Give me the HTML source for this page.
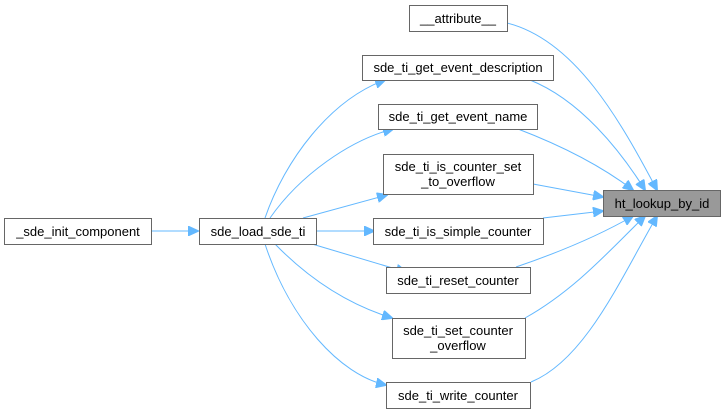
<!DOCTYPE html>
<html><head><meta charset="utf-8"><style>
html,body{margin:0;padding:0;background:#fff;}
svg text{font-family:"Liberation Sans",sans-serif;font-size:13px;fill:#000;}
</style></head><body>
<svg width="723" height="413" viewBox="0 0 723 413" xmlns="http://www.w3.org/2000/svg">
<defs><marker id="a" markerWidth="11" markerHeight="10" refX="10" refY="5" orient="auto" markerUnits="userSpaceOnUse"><path d="M0,0 L11,5 L0,10 Z" fill="#63b8ff" stroke="#63b8ff"/></marker></defs>
<g fill="none" stroke="#63b8ff" stroke-width="1" marker-end="url(#a)">
<path d="M151,231 L198,231"/>
<path d="M316,231 L374,231"/>
<path d="M265,218 C285,160 330,100 385,80"/>
<path d="M270,218 C300,175 350,140 393,129"/>
<path d="M303,218 L387,195"/>
<path d="M312,244 L406,272"/>
<path d="M275,244 C310,280 350,305 392,318"/>
<path d="M265,244 C290,320 340,375 386,385"/>
<path d="M507,23 C575,40 620,120 657,190"/>
<path d="M530,80 C580,100 620,150 645,190"/>
<path d="M518,129 C560,145 600,165 633,190"/>
<path d="M533,184 L603,197"/>
<path d="M543,218 L603,211"/>
<path d="M516,267 C560,252 600,235 633,216"/>
<path d="M525,318 C575,290 610,250 645,216"/>
<path d="M531,382 C585,360 620,280 657,216"/>
</g>
<g stroke="#666" stroke-width="1" fill="#fff">
<rect x="409.5" y="5.5" width="98" height="26"/>
<rect x="362.5" y="55.5" width="191" height="25"/>
<rect x="378.5" y="104.5" width="159" height="25"/>
<rect x="383.5" y="154.5" width="150" height="40"/>
<rect x="603.5" y="190.5" width="117" height="26" fill="#999"/>
<rect x="373.5" y="218.5" width="170" height="26"/>
<rect x="4.5" y="218.5" width="147" height="26"/>
<rect x="199.5" y="218.5" width="117" height="26"/>
<rect x="386.5" y="267.5" width="144" height="26"/>
<rect x="392.5" y="318.5" width="133" height="40"/>
<rect x="386.5" y="382.5" width="144" height="26"/>
</g>
<g text-anchor="middle">
<text x="458" y="23">__attribute__</text>
<text x="458" y="72">sde_ti_get_event_description</text>
<text x="458" y="121">sde_ti_get_event_name</text>
<text x="458" y="171">sde_ti_is_counter_set</text>
<text x="458" y="186">_to_overflow</text>
<text x="662" y="208">ht_lookup_by_id</text>
<text x="458" y="236">sde_ti_is_simple_counter</text>
<text x="78" y="236">_sde_init_component</text>
<text x="258" y="236">sde_load_sde_ti</text>
<text x="458" y="285">sde_ti_reset_counter</text>
<text x="458" y="335">sde_ti_set_counter</text>
<text x="458" y="350">_overflow</text>
<text x="458" y="400">sde_ti_write_counter</text>
</g>
</svg>
</body></html>
